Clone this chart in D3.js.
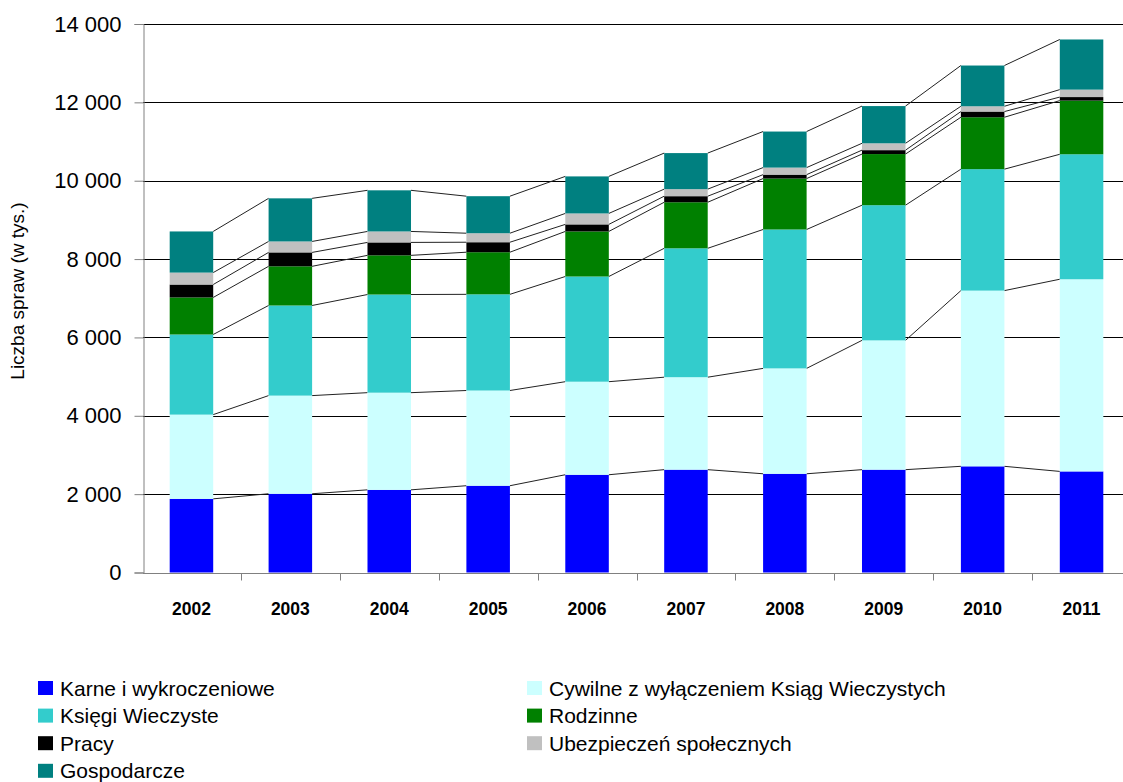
<!DOCTYPE html>
<meta charset="utf-8">
<style>
body { margin: 0; background: #fff; }
text { font-family: "Liberation Sans", Arial, sans-serif; }
</style>
<body>
<script src="https://d3js.org/d3.v7.min.js"></script>
<script>

var years = ["2002", "2003", "2004", "2005", "2006", "2007", "2008", "2009", "2010", "2011"];

// values in thousands
var karne    = [1880, 2010, 2110, 2215, 2495, 2625, 2520, 2625, 2710, 2580];
var cywilne  = [2150, 2505, 2480, 2430, 2375, 2360, 2690, 3300, 4485, 4905];
var ksiegi   = [2045, 2300, 2505, 2455, 2685, 3290, 3545, 3450, 3100, 3190];
var rodzinne = [945, 1000, 1000, 1075, 1150, 1175, 1300, 1305, 1325, 1370];
var pracy    = [330, 355, 330, 255, 180, 155, 100, 100, 145, 90];
var ubezp    = [305, 280, 280, 230, 280, 180, 180, 175, 135, 190];
var gosp     = [1050, 1100, 1050, 945, 945, 920, 920, 950, 1040, 1280];

var seriesNames = ["Karne i wykroczeniowe", "Cywilne z wyłączeniem Ksiąg Wieczystych",
  "Księgi Wieczyste", "Rodzinne", "Pracy", "Ubezpieczeń społecznych", "Gospodarcze"];
var seriesKeys = ["karne", "cywilne", "ksiegi", "rodzinne", "pracy", "ubezp", "gosp"];
var seriesColors = ["#0000ff", "#ccffff", "#33cccc", "#008000", "#000000", "#c0c0c0", "#008080"];
var yTicks = [0, 2000, 4000, 6000, 8000, 10000, 12000, 14000];

var width = 1123,
    height = 782;

var svg = d3.select("body").append("svg")
    .attr("width", width)
    .attr("height", height);

var table = years.map(function(y, i) {
  return {year: y, karne: karne[i], cywilne: cywilne[i], ksiegi: ksiegi[i],
    rodzinne: rodzinne[i], pracy: pracy[i], ubezp: ubezp[i], gosp: gosp[i]};
});

var stacked = d3.stack().keys(seriesKeys)(table);

var x = d3.scaleBand()
    .domain(years)
    .range([142, 1131])
    .paddingInner(0.56)
    .paddingOuter(0.28);

var band = d3.scaleBand().domain(years).range([142, 1131]);

var y = d3.scaleLinear()
    .domain([0, 14000])
    .range([572.5, 24]);

// gridlines
svg.append("g")
  .selectAll("line")
  .data(yTicks.slice(1))
  .enter().append("line")
    .attr("x1", 143).attr("x2", width)
    .attr("y1", function(d) { return Math.round(y(d)) + 0.5; })
    .attr("y2", function(d) { return Math.round(y(d)) + 0.5; })
    .attr("stroke", "#000")
    .attr("stroke-width", 1);

// series lines joining the bars
var joins = svg.append("g");
stacked.forEach(function(s) {
  for (var i = 0; i < years.length - 1; i++) {
    joins.append("line")
      .attr("x1", x(years[i]) + x.bandwidth())
      .attr("x2", x(years[i + 1]))
      .attr("y1", y(s[i][1]))
      .attr("y2", y(s[i + 1][1]))
      .attr("stroke", "#222")
      .attr("stroke-width", 1);
  }
});

// bars
svg.append("g")
  .selectAll("g")
  .data(stacked)
  .enter().append("g")
    .attr("fill", function(d, i) { return seriesColors[i]; })
  .selectAll("rect")
  .data(function(d) { return d; })
  .enter().append("rect")
    .attr("x", function(d) { return x(d.data.year); })
    .attr("width", x.bandwidth())
    .attr("y", function(d) { return y(d[1]); })
    .attr("height", function(d) { return y(d[0]) - y(d[1]); });

// y axis
var fmt = function(d) { return d3.format(",")(d).replace(/,/g, " "); };
var yAxis = svg.append("g")
    .attr("transform", "translate(143.5,0)")
    .call(d3.axisLeft(y).tickValues(yTicks).tickFormat(fmt).tickSize(9).tickPadding(13));
yAxis.select(".domain").attr("stroke", "#808080");
yAxis.selectAll(".tick line").attr("stroke", "#808080");
yAxis.selectAll("text")
    .attr("font-size", "22px")
    .attr("fill", "#000")
    .style("font-family", "'Liberation Sans', Arial, sans-serif");

// x axis
var xAxis = svg.append("g")
    .attr("transform", "translate(0," + (Math.round(y(0)) + 0.5) + ")");
xAxis.append("line")
    .attr("x1", 143).attr("x2", width)
    .attr("stroke", "#808080");
xAxis.selectAll(".tk")
  .data(years.slice(1))
  .enter().append("line")
    .attr("x1", function(d) { return Math.round(band(d)) + 0.5; })
    .attr("x2", function(d) { return Math.round(band(d)) + 0.5; })
    .attr("y1", 0).attr("y2", 7)
    .attr("stroke", "#808080");
xAxis.selectAll("text")
  .data(years)
  .enter().append("text")
    .attr("x", function(d) { return band(d) + band.bandwidth() / 2; })
    .attr("y", 41)
    .attr("text-anchor", "middle")
    .attr("font-size", "17.5px")
    .attr("font-weight", "bold")
    .text(function(d) { return d; });

// axis title
svg.append("text")
    .attr("transform", "translate(24,291) rotate(-90)")
    .attr("text-anchor", "middle")
    .attr("font-size", "19px")
    .text("Liczba spraw (w tys.)");

// legend
var legend = svg.append("g");
var legItems = legend.selectAll("g")
  .data(seriesNames)
  .enter().append("g")
    .attr("transform", function(d, i) {
      return "translate(" + (i % 2 ? 527 : 38) + "," + (688 + Math.floor(i / 2) * 27.6) + ")";
    });
legItems.append("rect")
    .attr("x", 0).attr("y", -7)
    .attr("width", 15).attr("height", 14)
    .attr("fill", function(d, i) { return seriesColors[i]; });
legItems.append("text")
    .attr("x", 22)
    .attr("y", 7.5)
    .attr("font-size", "21px")
    .text(function(d) { return d; });

</script>
</body>
